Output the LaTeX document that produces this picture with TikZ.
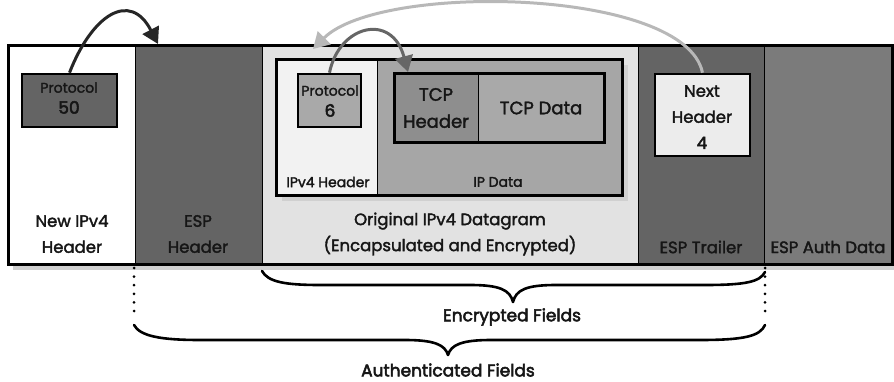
\documentclass[tikz,border=0pt]{standalone}
\usepackage{fontspec}
\setmainfont{Poppins}[FakeBold=2]
\newfontfamily\heavyf{Poppins}[FakeBold=3]
\usetikzlibrary{arrows.meta,fit}
\definecolor{darkseg}{HTML}{646464}
\definecolor{authseg}{HTML}{7B7B7B}
\definecolor{origseg}{HTML}{E2E2E2}
\definecolor{ipdata}{HTML}{A6A6A6}
\definecolor{iphdr}{HTML}{F2F2F2}
\definecolor{tcphdr}{HTML}{8E8E8E}
\definecolor{tcpdata}{HTML}{A9A9A9}
\definecolor{prot6}{HTML}{A9A9A9}
\definecolor{nexthdr}{HTML}{ECECEC}
\definecolor{shadowc}{HTML}{D0D0D0}
\definecolor{txt}{HTML}{161616}
\tikzset{
  seg/.style={draw=black, line width=0.8pt, inner sep=0pt},
  fieldbox/.style={draw=black, line width=2.6pt, inner sep=0pt},
  lbl/.style={text=txt, align=center, inner sep=0pt, font=\fontsize{16.5}{26}\selectfont},
  smalllbl/.style={text=txt, align=center, inner sep=0pt, font=\fontsize{14}{21}\selectfont},
  bracelbl/.style={text=txt, align=center, inner sep=0pt, font=\heavyf\fontsize{17}{20}\selectfont},
  bracepath/.style={line width=2.6pt, line cap=round, line join=round},
  dotline/.style={line width=3pt, line cap=round, dash pattern=on 0pt off 8.6pt},
  arrowA/.style={line width=3pt, draw=black!85, -{Triangle[length=16pt,width=18pt]}},
  arrowB/.style={line width=3pt, draw=black!60, -{Triangle[length=16pt,width=18pt]}},
  arrowC/.style={line width=3pt, draw=black!28, -{Triangle[length=16pt,width=18pt]}},
}
\begin{document}
\begin{tikzpicture}[x=1pt,y=-1pt]
\useasboundingbox (0,0) rectangle (894,382);
% shadows
\fill[shadowc] (13,264) rectangle (894,270);
% segments
\node[seg, fill=white, fit={(9,46)(135,264)}] (newh) {};
\node[seg, fill=darkseg, fit={(135,46)(262,264)}] (esph) {};
\node[seg, fill=origseg, fit={(262,46)(638,264)}] (orig) {};
\node[seg, fill=darkseg, fit={(638,46)(764,264)}] (trail) {};
\node[seg, fill=authseg, fit={(764,46)(892,264)}] (auth) {};
\draw[line width=3pt] (newh.north west) rectangle (auth.south east);
% inner datagram
\fill[shadowc] (282,65) rectangle (628,201);
\node[seg, fill=iphdr, fit={(277,60)(377,195)}] (iph) {};
\node[seg, fill=ipdata, fit={(377,60)(622,195)}] (ipd) {};
\draw[line width=3pt] (iph.north west) rectangle (ipd.south east);
% TCP
\node[seg, fill=tcphdr, fit={(395,74)(478,142)}] (tcph) {};
\node[seg, fill=tcpdata, fit={(478,74)(604,142)}] (tcpd) {};
\draw[line width=3pt] (tcph.north west) rectangle (tcpd.south east);
% field boxes
\node[fieldbox, fill=darkseg, fit={(22,74)(117,127)}] (p50) {};
\node[fieldbox, fill=prot6, fit={(298,74)(361,127)}] (p6) {};
\node[fieldbox, fill=nexthdr, fit={(655,74)(750,156)}] (nh) {};
% labels
\node[lbl] (tnewh) at (72,234) {New IPv4\\Header};
\node[lbl] (tesph) at (198,234) {ESP\\Header};
\node[lbl] (torig) at (450,234) {Original IPv4 Datagram\\(Encapsulated and Encrypted)};
\node[lbl] (ttrail) at (701,247) {ESP Trailer};
\node[lbl] (tauth) at (828,247) {ESP Auth Data};
\node[smalllbl] (tp50) at (69,98) {Protocol\\{\heavyf\fontsize{17}{21}\selectfont 50}};
\node[smalllbl] (tp6) at (330,101) {Protocol\\{\heavyf\fontsize{17}{21}\selectfont 6}};
\node[lbl, font=\fontsize{18}{27}\selectfont] (ttcph) at (436,108) {TCP\\Header};
\node[lbl, font=\fontsize{18}{27}\selectfont] (ttcpd) at (541,108) {TCP Data};
\node[smalllbl] (tiph) at (328,182) {IPv4 Header};
\node[smalllbl] (tipd) at (498,182) {IP Data};
\node[lbl] (tnh) at (702,117) {Next\\Header\\{\heavyf 4}};
% arrows
\coordinate (espTip) at (158,44);
\coordinate (tcpTip) at (408,72);
\coordinate (ipTip) at (313,49);
\draw[arrowA] (p50.north) .. controls (92,15) and (130,-10) .. (espTip);
\draw[arrowB] (p6.north) .. controls (339,25) and (392,12) .. (tcpTip);
\draw[arrowC] (nh.north) .. controls (685,-12) and (380,-18) .. (ipTip);
% braces
\coordinate (encL) at (262,271);
\coordinate (encR) at (765,272);
\coordinate (encTip) at (513,302);
\coordinate (autL) at (134,325);
\coordinate (autR) at (765,325);
\coordinate (autTip) at (448,355);
\coordinate (dotLtop) at (134,268);
\coordinate (dotRtop) at (765,268);
\draw[dotline] (dotLtop) -- (134,318);
\draw[dotline] (dotRtop) -- (765,318);
\draw[bracepath] (encL) .. controls (268,282) and (285,285) .. (320,285) -- (470,285)
  .. controls (500,285) and (510,290) .. (encTip)
  .. controls (516,290) and (526,285) .. (556,285) -- (705,285)
  .. controls (745,285) and (760,282) .. (encR);
\draw[bracepath] (autL) .. controls (140,336) and (160,340) .. (200,340) -- (405,340)
  .. controls (435,340) and (445,345) .. (autTip)
  .. controls (451,345) and (461,340) .. (491,340) -- (700,340)
  .. controls (745,340) and (760,336) .. (autR);
\node[bracelbl] (tenc) at (512,317) {Encrypted Fields};
\node[bracelbl] (taut) at (448,370) {Authenticated Fields};
\end{tikzpicture}
\end{document}
